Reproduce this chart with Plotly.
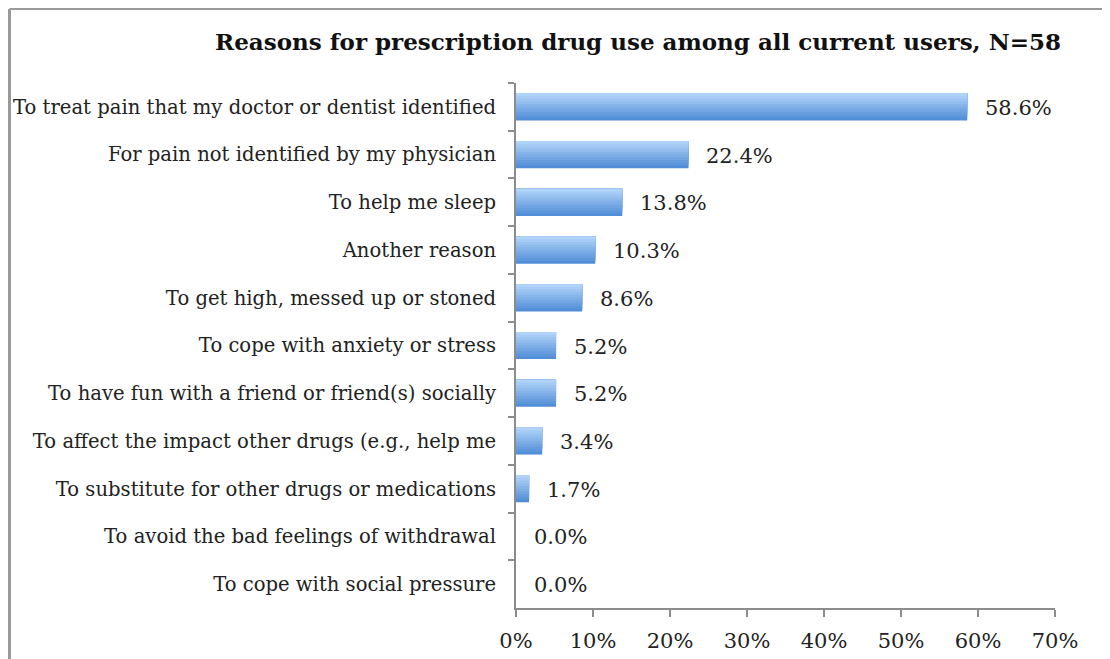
import plotly.graph_objects as go

categories = [
    "To treat pain that my doctor or dentist identified",
    "For pain not identified by my physician",
    "To help me sleep",
    "Another reason",
    "To get high, messed up or stoned",
    "To cope with anxiety or stress",
    "To have fun with a friend or friend(s) socially",
    "To affect the impact other drugs (e.g., help me",
    "To substitute for other drugs or medications",
    "To avoid the bad feelings of withdrawal",
    "To cope with social pressure",
]
values = [58.6, 22.4, 13.8, 10.3, 8.6, 5.2, 5.2, 3.4, 1.7, 0.0, 0.0]
x_ticks = [0, 10, 20, 30, 40, 50, 60, 70]
title = "Reasons for prescription drug use among all current users, N=58"

FONT = "DejaVu Serif"
# page has an 8px body margin; figure coordinates = page coordinates - 8
W, H = 1102, 651
L, R, T, B = 508, 55, 75, 51
PW, PH = W - L - R, H - T - B

fig = go.Figure()

# simulated vertical gradient: dark full bar, lighter narrower bands on top
N = 10
dark = (82, 142, 215)
light = (176, 211, 249)
full_w = 0.57
for k in range(N):
    f = k / (N - 1)
    c = tuple(round(dark[i] + (light[i] - dark[i]) * f) for i in range(3))
    w = full_w * (1 - k / N)
    fig.add_trace(go.Bar(
        x=values, y=categories, orientation="h",
        width=w, offset=-full_w / 2,
        marker=dict(color="rgb(%d,%d,%d)" % c, line=dict(width=0)),
        hoverinfo="skip" if k else "x+y", showlegend=False,
    ))

for v, cat in zip(values, categories):
    fig.add_annotation(x=v, y=cat, text="%.1f%%" % v, showarrow=False,
                       xanchor="left", xshift=16, yshift=-1,
                       font=dict(family=FONT, size=21, color="#222222"))

# outer frame (left and top edges)
x0 = (1.5 - L) / PW
y0 = (H - B - 1) / PH
fig.add_shape(type="line", xref="paper", yref="paper", x0=x0, x1=x0, y0=y0, y1=-0.3,
              line=dict(color="#999999", width=3))
fig.add_shape(type="line", xref="paper", yref="paper", x0=x0, x1=2, y0=y0, y1=y0,
              line=dict(color="#999999", width=2))

fig.update_layout(
    width=W, height=H,
    margin=dict(l=L, r=R, t=T, b=B, autoexpand=False),
    paper_bgcolor="white", plot_bgcolor="white",
    barmode="overlay",
    title=dict(text="<b>" + title + "</b>", x=630 / W, xanchor="center",
               y=1 - 34 / H, yanchor="middle",
               font=dict(family=FONT, size=23, color="#111111")),
    xaxis=dict(range=[0, 70], tickvals=x_ticks, ticktext=["%d%%" % t for t in x_ticks],
               automargin=False,
               showgrid=False, zeroline=False, showline=True, linecolor="#8c8c8c", linewidth=2,
               ticks="outside", ticklen=7, tickwidth=2, tickcolor="#8c8c8c",
               ticklabelstandoff=6,
               tickfont=dict(family=FONT, size=21, color="#222222")),
    yaxis=dict(categoryorder="array", categoryarray=categories, autorange="reversed",
               automargin=False,
               showgrid=False, zeroline=False, showline=True, linecolor="#8c8c8c", linewidth=2,
               ticks="outside", ticklen=6, tickwidth=2, tickcolor="#8c8c8c",
               tickson="boundaries", ticklabelstandoff=14,
               tickfont=dict(family=FONT, size=19.6, color="#222222")),
)

fig.write_html("out.html")
